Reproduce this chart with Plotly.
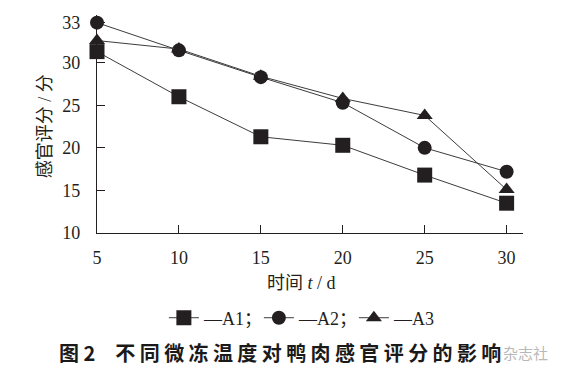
import plotly.graph_objects as go

days = [5, 10, 15, 20, 25, 30]
a1 = [31.3, 26.0, 21.3, 20.3, 16.8, 13.5]
a2 = [34.7, 31.45, 28.3, 25.3, 20.0, 17.2]
a3 = [32.6, 31.6, 28.4, 25.8, 23.8, 15.1]
names = ["—A1；", "—A2；", "—A3"]
symbols = ["square", "circle", "triangle-up"]
sizes = [15, 14, 14]
y_tickvals = [10, 15, 20, 25, 30, 34.7]
y_ticktext = ["10", "15", "20", "25", "30", "33"]
x_tickvals = [5, 10, 15, 20, 25, 30]

INK = "#231f20"
SERIF = "Liberation Serif, Times New Roman, Noto Sans CJK SC, serif"
CJK = "Noto Sans CJK SC, sans-serif"

fig = go.Figure()
for ys, nm, sym, sz in zip([a1, a2, a3], names, symbols, sizes):
    fig.add_trace(go.Scatter(
        x=days, y=ys, name=nm, mode="lines+markers",
        line=dict(color="#3c3c3c", width=1),
        marker=dict(symbol=sym, size=sz, color=INK, line=dict(width=0)),
        cliponaxis=False,
    ))

fig.update_layout(
    width=557, height=369,
    margin=dict(l=89, r=42, t=7, b=144, autoexpand=False),
    paper_bgcolor="white", plot_bgcolor="white",
    showlegend=True,
    legend=dict(
        orientation="h", x=0.157, xanchor="left", y=-0.39, yanchor="middle",
        font=dict(family=SERIF, size=18, color=INK),
        itemwidth=30, bgcolor="rgba(0,0,0,0)",
        entrywidth=50, entrywidthmode="pixels",
    ),
    xaxis=dict(
        range=[5, 31], tickvals=x_tickvals, showgrid=False, zeroline=False,
        showline=True, linecolor=INK, linewidth=1.3, automargin=False,
        ticks="inside", ticklen=8, tickwidth=1.3, tickcolor=INK,
        tickfont=dict(family=SERIF, size=18, color=INK),
        ticklabelstandoff=8,
    ),
    yaxis=dict(
        range=[10, 35.6], tickvals=y_tickvals, ticktext=y_ticktext,
        showgrid=False, zeroline=False, automargin=False,
        showline=True, linecolor=INK, linewidth=1.3,
        ticks="inside", ticklen=8, tickwidth=1.3, tickcolor=INK,
        tickfont=dict(family=SERIF, size=18, color=INK),
        ticklabelstandoff=12,
    ),
    annotations=[
        dict(text="时间 <i>t</i> / d", xref="paper", yref="paper",
             x=0.48, y=-0.23, xanchor="center", yanchor="middle",
             showarrow=False, font=dict(family=SERIF, size=18, color=INK)),
        dict(text="感官评分 / 分", xref="paper", yref="paper",
             x=-0.122, y=0.49, xanchor="center", yanchor="middle", textangle=-90,
             showarrow=False, font=dict(family=SERIF, size=18, color=INK)),
        dict(text="<b>图 2　<span style='letter-spacing:4.4px'>不同微冻温度对鸭肉感官评分的影响</span></b>",
             xref="paper", yref="paper",
             x=-0.094, y=-0.55, xanchor="left", yanchor="middle",
             showarrow=False, font=dict(family=CJK, size=20, color="#1a1a1a")),
        dict(text="杂志社", xref="paper", yref="paper",
             x=1.005, y=-0.55, xanchor="center", yanchor="middle",
             showarrow=False, font=dict(family=CJK, size=15, color="#b8b8b8")),
    ],
)

fig.write_html("out.html")
